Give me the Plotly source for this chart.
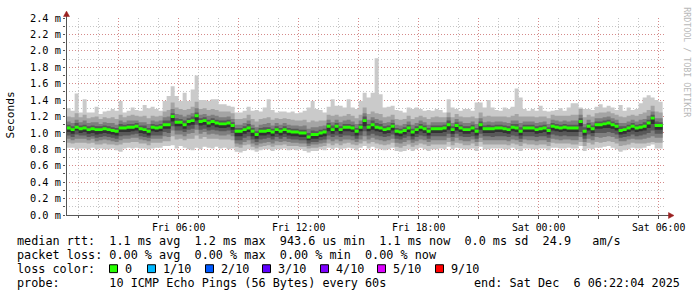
import plotly.graph_objects as go
import pandas as pd

# ---------------- data (milliseconds), one value per 12-minute step ----------------
STEP_START = "2025-12-05 00:24:00"
STEP_FREQ = "12min"
RANGE_START = "2025-12-05 00:22:04"
RANGE_END = "2025-12-06 06:22:04"

med = [1.06,1.04,1.07,1.05,1.06,1.04,1.05,1.04,1.04,1.05,1.04,1.03,1.02,1.06,1.06,1.07,1.07,1.08,1.05,1.04,1.02,1.07,1.06,1.07,1.10,
       1.10,1.20,1.13,1.13,1.10,1.14,1.15,1.21,1.14,1.15,1.12,1.14,1.12,1.11,1.11,1.12,1.09,1.02,1.02,1.04,1.06,1.02,0.98,1.02,1.02,
       1.03,1.01,1.04,1.02,1.04,1.02,1.01,1.01,1.00,1.00,0.95,0.98,0.98,1.00,1.01,1.08,1.04,1.08,1.04,1.07,1.07,1.06,1.02,1.07,1.15,
       1.07,1.10,1.07,1.06,1.04,1.05,1.08,1.02,1.01,1.03,1.06,1.01,1.04,1.07,1.05,1.02,1.05,1.05,1.05,1.06,1.10,1.04,1.09,1.06,1.04,
       1.04,1.06,1.02,1.10,1.05,1.05,1.05,1.06,1.06,1.05,1.04,1.07,1.06,1.02,1.06,1.06,1.06,1.04,1.05,1.06,1.03,1.08,1.07,1.06,1.07,
       1.06,1.06,1.06,1.14,1.02,1.08,1.05,1.10,1.10,1.11,1.12,1.10,1.08,1.03,1.04,1.06,1.08,1.06,1.07,1.08,1.12,1.18,1.09,1.09]

p10 = [1.30,1.27,1.48,1.25,1.41,1.25,1.25,1.32,1.23,1.26,1.27,1.29,1.27,1.39,1.25,1.27,1.31,1.28,1.27,1.34,1.30,1.32,1.29,1.27,1.39,
       1.45,1.57,1.45,1.39,1.49,1.39,1.53,1.70,1.40,1.40,1.39,1.41,1.41,1.35,1.35,1.33,1.32,1.25,1.25,1.27,1.32,1.27,1.28,1.26,1.31,
       1.41,1.28,1.25,1.26,1.26,1.25,1.26,1.24,1.25,1.27,1.31,1.39,1.29,1.28,1.25,1.32,1.41,1.33,1.33,1.31,1.41,1.31,1.29,1.39,1.49,
       1.43,1.49,1.91,1.47,1.31,1.32,1.33,1.28,1.27,1.25,1.31,1.29,1.31,1.29,1.27,1.28,1.27,1.29,1.28,1.25,1.41,1.31,1.29,1.27,1.29,
       1.29,1.27,1.37,1.37,1.31,1.40,1.31,1.28,1.27,1.31,1.29,1.32,1.54,1.43,1.29,1.27,1.29,1.27,1.33,1.27,1.26,1.27,1.28,1.30,1.27,
       1.31,1.36,1.36,1.31,1.29,1.29,1.28,1.32,1.35,1.31,1.33,1.31,1.28,1.34,1.27,1.31,1.28,1.29,1.36,1.43,1.46,1.43,1.40,1.38]

p1 = [0.82,0.82,0.80,0.81,0.81,0.80,0.82,0.80,0.81,0.80,0.80,0.81,0.79,0.77,0.81,0.82,0.81,0.82,0.81,0.81,0.80,0.81,0.82,0.82,0.84,
      0.84,0.85,0.81,0.84,0.82,0.80,0.79,0.82,0.80,0.83,0.82,0.81,0.83,0.81,0.82,0.80,0.81,0.77,0.76,0.78,0.80,0.79,0.77,0.79,0.80,
      0.80,0.78,0.80,0.80,0.81,0.79,0.80,0.79,0.80,0.78,0.76,0.78,0.78,0.80,0.79,0.82,0.80,0.82,0.80,0.81,0.82,0.81,0.79,0.82,0.84,
      0.81,0.83,0.81,0.80,0.79,0.80,0.82,0.78,0.77,0.78,0.80,0.78,0.80,0.82,0.80,0.78,0.80,0.80,0.81,0.80,0.83,0.80,0.82,0.81,0.80,
      0.80,0.81,0.78,0.83,0.80,0.80,0.81,0.81,0.81,0.80,0.80,0.82,0.80,0.78,0.81,0.81,0.80,0.80,0.81,0.81,0.79,0.82,0.82,0.81,0.81,
      0.82,0.81,0.81,0.84,0.78,0.81,0.80,0.82,0.82,0.83,0.84,0.82,0.80,0.77,0.79,0.80,0.82,0.81,0.81,0.82,0.84,0.86,0.81,0.81]

# spread of the sorted pings above (u) and below (l) the median
u9 = [.14,.15,.17,.14,.16,.14,.14,.16,.13,.14,.14,.16,.15,.16,.13,.14,.15,.13,.15,.17,.16,.14,.14,.14,.16,
      .18,.17,.18,.16,.18,.15,.17,.17,.15,.15,.16,.15,.16,.15,.15,.14,.15,.15,.15,.14,.16,.15,.16,.15,.16,
      .16,.15,.14,.15,.14,.15,.15,.14,.15,.16,.18,.17,.16,.15,.14,.14,.17,.14,.16,.14,.16,.15,.16,.15,.16,
      .16,.16,.17,.17,.15,.15,.14,.15,.15,.14,.15,.16,.15,.14,.14,.15,.14,.15,.14,.13,.15,.15,.14,.14,.15,
      .15,.14,.16,.15,.15,.16,.15,.14,.14,.15,.15,.14,.17,.18,.14,.14,.14,.15,.15,.14,.15,.14,.14,.15,.14,
      .15,.16,.16,.15,.17,.14,.15,.14,.15,.14,.14,.14,.14,.17,.15,.15,.14,.15,.16,.17,.16,.15,.17,.16]
u8 = [.08,.08,.09,.08,.09,.08,.08,.09,.07,.08,.08,.09,.08,.09,.07,.08,.08,.07,.08,.09,.09,.08,.08,.08,.09,
      .10,.09,.10,.09,.10,.08,.09,.09,.08,.08,.09,.08,.09,.08,.08,.08,.08,.08,.08,.08,.09,.08,.09,.08,.09,
      .09,.08,.08,.08,.08,.08,.08,.08,.08,.09,.10,.09,.09,.08,.08,.08,.09,.08,.09,.08,.09,.08,.09,.08,.09,
      .09,.09,.10,.09,.08,.08,.08,.08,.08,.08,.08,.09,.08,.08,.08,.08,.08,.08,.08,.07,.09,.08,.08,.08,.08,
      .08,.08,.09,.08,.08,.09,.08,.08,.08,.08,.08,.08,.09,.10,.08,.08,.08,.08,.08,.08,.08,.08,.08,.08,.08,
      .08,.09,.09,.08,.09,.08,.08,.08,.08,.08,.08,.08,.08,.09,.08,.08,.08,.08,.09,.09,.09,.08,.09,.09]
u7 = [.04,.04,.05,.04,.04,.04,.04,.04,.04,.04,.04,.04,.04,.05,.04,.04,.04,.04,.04,.05,.04,.04,.04,.04,.05,
      .05,.04,.05,.04,.05,.04,.05,.04,.04,.04,.04,.04,.04,.04,.04,.04,.04,.04,.04,.04,.05,.04,.04,.04,.05,
      .04,.04,.04,.04,.04,.04,.04,.04,.04,.04,.05,.05,.04,.04,.04,.04,.05,.04,.04,.04,.04,.04,.04,.04,.05,
      .04,.05,.05,.05,.04,.04,.04,.04,.04,.04,.04,.04,.04,.04,.04,.04,.04,.04,.04,.04,.05,.04,.04,.04,.04,
      .04,.04,.04,.04,.04,.05,.04,.04,.04,.04,.04,.04,.05,.05,.04,.04,.04,.04,.04,.04,.04,.04,.04,.04,.04,
      .04,.04,.04,.04,.05,.04,.04,.04,.04,.04,.04,.04,.04,.05,.04,.04,.04,.04,.04,.05,.04,.04,.05,.04]
l5 = [.05,.05,.04,.05,.05,.05,.05,.06,.05,.05,.05,.05,.05,.05,.05,.06,.05,.05,.05,.05,.05,.05,.05,.05,.05,
      .05,.06,.05,.05,.05,.05,.05,.06,.05,.05,.05,.05,.05,.05,.05,.05,.05,.06,.06,.05,.05,.06,.05,.05,.05,
      .05,.05,.05,.05,.05,.05,.05,.05,.05,.05,.04,.05,.05,.05,.05,.06,.05,.06,.05,.05,.05,.05,.05,.05,.07,
      .05,.06,.05,.05,.05,.05,.05,.05,.05,.05,.05,.05,.05,.05,.05,.05,.05,.05,.05,.05,.06,.05,.06,.05,.05,
      .05,.05,.05,.06,.05,.05,.05,.05,.05,.05,.05,.05,.05,.05,.05,.05,.05,.05,.05,.05,.05,.05,.05,.05,.05,
      .05,.05,.05,.06,.05,.05,.05,.05,.05,.05,.06,.05,.05,.05,.05,.05,.05,.05,.05,.05,.06,.07,.05,.05]
l4 = [.09,.09,.09,.08,.09,.09,.09,.10,.09,.09,.09,.09,.09,.10,.09,.10,.09,.09,.09,.09,.08,.10,.09,.10,.09,
      .10,.12,.10,.10,.09,.10,.10,.11,.10,.10,.09,.10,.09,.09,.09,.09,.09,.11,.11,.10,.10,.10,.09,.10,.09,
      .09,.09,.09,.09,.09,.09,.09,.09,.09,.09,.08,.09,.09,.09,.09,.11,.09,.11,.09,.10,.10,.10,.09,.10,.13,
      .10,.11,.10,.10,.09,.09,.10,.09,.09,.09,.10,.09,.09,.10,.09,.09,.09,.09,.09,.10,.11,.09,.10,.10,.09,
      .09,.10,.09,.11,.09,.09,.10,.10,.10,.09,.09,.10,.10,.09,.10,.10,.10,.09,.09,.10,.09,.10,.10,.10,.10,
      .10,.10,.10,.13,.09,.10,.09,.10,.10,.11,.11,.10,.10,.09,.09,.10,.10,.10,.10,.10,.12,.15,.10,.10]
l3 = [.13,.13,.14,.12,.13,.13,.12,.14,.13,.13,.13,.13,.13,.15,.13,.14,.13,.14,.13,.13,.12,.14,.13,.14,.14,
      .15,.17,.15,.15,.14,.15,.15,.17,.15,.14,.14,.15,.14,.14,.14,.14,.13,.15,.16,.15,.15,.15,.13,.15,.14,
      .14,.14,.14,.13,.14,.13,.13,.13,.13,.13,.11,.12,.12,.13,.13,.16,.14,.16,.14,.15,.15,.15,.13,.15,.19,
      .15,.16,.15,.15,.14,.14,.15,.14,.14,.14,.15,.13,.14,.15,.14,.13,.14,.14,.14,.15,.16,.14,.15,.15,.14,
      .14,.14,.13,.16,.14,.14,.14,.15,.15,.14,.14,.15,.15,.13,.14,.15,.15,.14,.14,.15,.14,.15,.15,.15,.15,
      .14,.15,.15,.19,.13,.15,.14,.15,.16,.16,.16,.15,.15,.13,.14,.14,.15,.14,.15,.15,.18,.22,.15,.15]
l2 = [.18,.17,.19,.17,.18,.17,.17,.18,.18,.18,.18,.17,.17,.20,.18,.19,.18,.19,.18,.17,.17,.19,.18,.19,.20,
      .20,.24,.21,.20,.19,.21,.22,.24,.21,.20,.19,.21,.19,.19,.19,.20,.18,.19,.20,.19,.20,.19,.17,.19,.18,
      .18,.18,.19,.17,.18,.18,.17,.17,.17,.17,.14,.16,.16,.17,.17,.21,.19,.21,.19,.20,.19,.20,.17,.20,.25,
      .20,.21,.20,.20,.19,.19,.20,.19,.19,.19,.20,.18,.19,.20,.19,.18,.19,.19,.19,.20,.21,.19,.21,.19,.19,
      .19,.19,.18,.21,.19,.19,.19,.20,.20,.19,.19,.20,.20,.18,.19,.20,.20,.19,.19,.20,.19,.20,.20,.19,.20,
      .19,.20,.20,.25,.18,.20,.19,.21,.22,.22,.22,.21,.21,.19,.19,.20,.20,.19,.20,.21,.24,.29,.21,.21]

MEDIAN_HALF = 0.018   # half thickness of the median bar

y_tick_vals = [0.0, 0.2, 0.4, 0.6, 0.8, 1.0, 1.2, 1.4, 1.6, 1.8, 2.0, 2.2, 2.4]
y_tick_text = ["0.0 m", "0.2 m", "0.4 m", "0.6 m", "0.8 m", "1.0 m", "1.2 m", "1.4 m",
               "1.6 m", "1.8 m", "2.0 m", "2.2 m", "2.4 m"]
x_tick_vals = ["2025-12-05 03:00", "2025-12-05 06:00", "2025-12-05 09:00", "2025-12-05 12:00",
               "2025-12-05 15:00", "2025-12-05 18:00", "2025-12-05 21:00", "2025-12-06 00:00",
               "2025-12-06 03:00", "2025-12-06 06:00"]
x_tick_text = ["", "Fri 06:00", "", "Fri 12:00", "", "Fri 18:00", "", "Sat 00:00", "", "Sat 06:00"]

loss_labels = ["0", "1/10", "2/10", "3/10", "4/10", "5/10", "9/10"]
loss_colors = ["#26ff00", "#00b8ff", "#0059ff", "#5e00ff", "#7e00ff", "#dd00ff", "#ff0000"]

legend_lines = [
    "median rtt:  1.1 ms avg  1.2 ms max  943.6 us min  1.1 ms now  0.0 ms sd  24.9   am/s",
    "packet loss: 0.00 % avg  0.00 % max  0.00 % min  0.00 % now",
    "loss color:",
    "probe:       10 ICMP Echo Pings (56 Bytes) every 60s",
]
end_text = "end: Sat Dec  6 06:22:04 2025"

# ---------------- build ----------------
n = len(med)
x = pd.date_range(STEP_START, periods=n + 1, freq=STEP_FREQ)


def ext(a):
    a = list(a)
    return a + [a[-1]]


def add(a, b, sign):
    return [ai + sign * bi for ai, bi in zip(a, b)]


p9 = add(med, u9, 1)
p8 = add(med, u8, 1)
p7 = add(med, u7, 1)
p5 = add(med, l5, -1)
p4 = add(med, l4, -1)
p3 = add(med, l3, -1)
p2 = add(med, l2, -1)
m_lo = [v - MEDIAN_HALF for v in med]
m_hi = [v + MEDIAN_HALF for v in med]

bands = [
    (p1, p10, "#cacaca"),
    (p2, p9, "#a4a4a4"),
    (p3, p8, "#7e7e7e"),
    (p4, p7, "#585858"),
    (p5, med, "#323232"),
    (m_lo, m_hi, loss_colors[0]),
]

fig = go.Figure()
for lo, hi, col in bands:
    fig.add_trace(go.Scatter(x=x, y=ext(lo), mode="lines", line=dict(width=0, shape="hv"),
                             hoverinfo="skip", showlegend=False))
    fig.add_trace(go.Scatter(x=x, y=ext(hi), mode="lines", line=dict(width=0, shape="hv"),
                             fill="tonexty", fillcolor=col, hoverinfo="skip", showlegend=False))

FONT = "DejaVu Sans Mono"
L, R, T, B = 66, 31, 15, 82
W, H = 697, 297
PW, PH = W - L - R, H - T - B


def px(xp):
    return (xp - L) / PW


def py(yp):
    return (T + PH - yp) / PH


def nb(s):
    return s.replace(" ", "\u00a0")


GRID = "rgba(150,150,150,0.55)"
MGRID = "rgba(225,90,90,0.55)"
AXIS = "#555555"
ARROW = "#9a2020"

fig.update_xaxes(
    range=[RANGE_START, RANGE_END], type="date",
    tickmode="array", tickvals=x_tick_vals, ticktext=x_tick_text,
    showgrid=True, gridcolor=MGRID, gridwidth=1, griddash="1px,2px",
    ticks="outside", ticklen=3, tickcolor=AXIS, tickwidth=1,
    minor=dict(dtick=3600000, tick0="2025-12-05 00:00", showgrid=True, gridcolor=GRID,
               griddash="1px,2px", ticks="outside", ticklen=2, tickcolor=AXIS),
    showline=False, zeroline=False,
    tickfont=dict(family=FONT, size=9.9, color="black"),
)
fig.update_yaxes(
    range=[0, 2.4], tickmode="array", tickvals=y_tick_vals, ticktext=y_tick_text,
    showgrid=True, gridcolor=MGRID, gridwidth=1, griddash="1px,2px",
    ticks="outside", ticklen=2, tickcolor=AXIS, tickwidth=1,
    minor=dict(dtick=0.1, showgrid=True, gridcolor=GRID, griddash="1px,2px",
               ticks="outside", ticklen=2, tickcolor=AXIS),
    showline=False, zeroline=False,
    tickfont=dict(family=FONT, size=10.3, color="black"),
)

shapes = [
    # axes
    dict(type="line", xref="paper", yref="paper", x0=px(66.5), x1=px(66.5), y0=py(215.5), y1=py(12),
         line=dict(color=AXIS, width=1)),
    dict(type="line", xref="paper", yref="paper", x0=px(66), x1=px(669), y0=py(215.5), y1=py(215.5),
         line=dict(color=AXIS, width=1)),
    # arrows
    dict(type="path", xref="paper", yref="paper",
         path="M {} {} L {} {} L {} {} Z".format(px(66.5), py(8), px(63.5), py(13.5), px(69.5), py(13.5)),
         fillcolor=ARROW, line=dict(color=ARROW, width=0.5)),
    dict(type="path", xref="paper", yref="paper",
         path="M {} {} L {} {} L {} {} Z".format(px(674), py(215.5), px(668.5), py(212.5), px(668.5), py(218.5)),
         fillcolor=ARROW, line=dict(color=ARROW, width=0.5)),
]

annotations = []


def ann(text, xp, yp, size, color="black", xanchor="left", angle=0):
    annotations.append(dict(xref="paper", yref="paper", x=px(xp), y=py(yp), text=nb(text),
                            showarrow=False, xanchor=xanchor, yanchor="middle", textangle=angle,
                            borderpad=0, font=dict(family=FONT, size=size, color=color)))


LEG = 11.8
ann("Seconds", 11, 114, 11.2, angle=-90, xanchor="center")
ann("RRDTOOL / TOBI OETIKER", 687, 60, 8.3, color="#b8b8b8", angle=90, xanchor="center")
ann(legend_lines[0], 16, 241.5, LEG)
ann(legend_lines[1], 16, 256, LEG)
ann(legend_lines[2], 16, 270, LEG)
ann(legend_lines[3], 16, 284, LEG)
ann(end_text, 681, 284, LEG, xanchor="right")

box_x = [109, 147, 205, 262, 320, 377, 435]
for bx, lab, col in zip(box_x, loss_labels, loss_colors):
    shapes.append(dict(type="rect", xref="paper", yref="paper",
                       x0=px(bx + 0.5), x1=px(bx + 8.5), y0=py(265.5), y1=py(273.5),
                       fillcolor=col, line=dict(color="black", width=1)))
    ann(lab, bx + 15, 270, LEG)

fig.update_layout(
    width=W, height=H, margin=dict(l=L, r=R, t=T, b=B, pad=0),
    paper_bgcolor="white", plot_bgcolor="white",
    showlegend=False, shapes=shapes, annotations=annotations,
)

fig.write_html("out.html")
